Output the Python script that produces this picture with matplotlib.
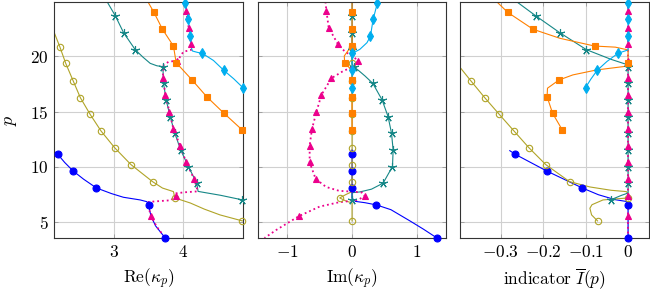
import numpy as np
import matplotlib
matplotlib.use("Agg")
import matplotlib.pyplot as plt

plt.rcParams['font.family'] = 'serif'
plt.rcParams['font.serif'] = ['cmr10', 'DejaVu Serif']
plt.rcParams['mathtext.fontset'] = 'cm'
plt.rcParams['axes.formatter.use_mathtext'] = True
plt.rcParams['font.size'] = 12

# ---- marker samples (p, Re, Im, indicator) per branch ----
blue_p = [11.14, 9.64, 8.11, 6.58, 3.6]
blue_re = [2.2, 2.42, 2.753, 3.5, 3.739]
blue_im = [0, 0, 0, 0.377, 1.31]
blue_ind = [-0.266, -0.192, -0.108, 0, 0]

olive_p = [20.84, 19.34, 17.77, 16.24, 14.75, 13.24, 11.74, 10.21, 8.68, 7.21, 5.14]
olive_re = [2.229, 2.314, 2.42, 2.524, 2.663, 2.82, 3.014, 3.249, 3.557, 3.877, 4.843]
olive_im = [0, 0, 0, 0, 0, 0, 0, 0, 0, -0.19, 0]
olive_ind = [-0.437, -0.404, -0.371, -0.338, -0.304, -0.269, -0.234, -0.194, -0.138, 0, -0.072]

teal_p = [23.63, 22.1, 20.57, 19.04, 17.54, 16.04, 14.54, 13.04, 11.54, 10.04, 8.54, 7.04]
teal_re = [3.024, 3.143, 3.31, 3.706, 3.715, 3.753, 3.81, 3.877, 3.96, 4.071, 4.191, 4.84]
teal_im = [0, 0, 0, 0.026, 0.32, 0.464, 0.556, 0.609, 0.634, 0.624, 0.479, 0]
teal_ind = [-0.218, -0.161, -0.098, 0, 0, 0, 0, 0, 0, 0, 0, -0.041]

mag_p = [24.08, 22.55, 21.05, 19.58, 18.0, 16.49, 14.95, 13.42, 11.92, 10.42, 8.92, 7.4, 5.57]
mag_re = [4.039, 4.075, 4.11, 3.915, 3.706, 3.743, 3.8, 3.857, 3.953, 4.039, 4.153, 3.896, 3.534]
mag_im = [-0.396, -0.36, -0.216, 0.096, -0.318, -0.473, -0.55, -0.618, -0.654, -0.654, -0.561, 0.196, -0.819]
mag_ind = [0] * 13

orange_p = [23.94, 22.41, 20.9, 19.4, 17.84, 16.33, 14.84, 13.33]
orange_re = [3.577, 3.7, 3.857, 3.896, 4.124, 4.334, 4.581, 4.843]
orange_im = [0, 0, 0, -0.113, 0, 0, 0, 0]
orange_ind = [-0.284, -0.224, -0.079, 0, -0.163, -0.191, -0.178, -0.155]

cyan_p = [24.8, 23.3, 21.78, 20.24, 18.7, 17.16]
cyan_re = [4.024, 4.07, 4.1, 4.27, 4.58, 4.85]
cyan_im = [0.392, 0.325, 0.284, 0, 0, 0]
cyan_ind = [0, 0, 0, -0.024, -0.073, -0.1]

# ---- curve traces (x, p) per panel ----
blue_re_line_p = [11.55, 11.14, 10.4, 9.64, 8.9, 8.11, 7.6, 7.27, 7.03, 6.87, 6.58, 5.6, 4.7, 3.6]
blue_re_line_x = [2.12, 2.2, 2.3, 2.42, 2.57, 2.753, 2.97, 3.14, 3.38, 3.477, 3.5, 3.534, 3.6, 3.739]
blue_im_line_p = [11.55, 11.14, 9.64, 8.11, 7.2, 6.9, 6.78, 6.58, 6.15, 5.15, 4.4, 3.6]
blue_im_line_x = [0, 0, 0, 0, 0, 0.05, 0.2, 0.377, 0.6, 0.89, 1.1, 1.31]
blue_ind_line_p = [11.47, 11.14, 9.64, 8.11, 7.5, 7.05, 6.87, 6.58, 3.6]
blue_ind_line_x = [-0.279, -0.266, -0.192, -0.108, -0.07, -0.03, 0, 0, 0]

olive_re_line_p = [22.1, 20.84, 19.34, 17.77, 16.24, 14.75, 13.24, 11.74, 10.21, 8.68, 8.1, 7.78, 7.21, 6.75, 6.2, 5.68, 5.14]
olive_re_line_x = [2.15, 2.229, 2.314, 2.42, 2.524, 2.663, 2.82, 3.014, 3.249, 3.557, 3.7, 3.857, 3.877, 4.1, 4.3, 4.524, 4.843]
olive_im_line_p = [22.1, 8.68, 7.78, 7.5, 7.21, 6.95, 6.75, 5.14]
olive_im_line_x = [0, 0, 0, -0.1, -0.19, -0.1, 0, 0]
olive_ind_line_p = [22.1, 20.84, 19.34, 17.77, 16.24, 14.75, 13.24, 11.74, 10.21, 8.68, 8.2, 7.9, 7.78, 7.6, 7.21,
                    7.03, 6.6, 6.28, 5.68, 5.14]
olive_ind_line_x = [-0.48, -0.437, -0.404, -0.371, -0.338, -0.304, -0.269, -0.234, -0.194, -0.138, -0.09, -0.04,
                    -0.004, 0, 0, -0.059, -0.085, -0.09, -0.086, -0.072]

teal_re_line_p = [24.9, 23.63, 22.1, 20.57, 19.9, 19.34, 19.12, 19.04, 17.54, 16.04, 14.54, 13.04, 11.54, 10.04,
                  8.54, 7.8, 7.7, 7.45, 7.04]
teal_re_line_x = [2.906, 3.024, 3.143, 3.31, 3.42, 3.524, 3.62, 3.706, 3.715, 3.753, 3.81, 3.877, 3.96, 4.071,
                  4.191, 4.21, 4.3, 4.53, 4.84]
teal_im_line_p = [24.9, 19.3, 19.04, 18.7, 18.2, 17.54, 16.04, 14.54, 13.04, 11.54, 10.04, 8.54, 8.0, 7.75, 7.68, 7.04]
teal_im_line_x = [0, 0, 0.026, 0.1, 0.2, 0.32, 0.464, 0.556, 0.609, 0.634, 0.624, 0.479, 0.3, 0.12, 0, 0]
teal_ind_line_p = [24.9, 23.63, 22.1, 20.57, 19.7, 19.2, 7.65, 7.45, 7.04]
teal_ind_line_x = [-0.263, -0.218, -0.161, -0.098, -0.04, 0, 0, -0.015, -0.041]

mag_re_line_p = [24.9, 24.08, 22.55, 21.05, 20.55, 20.39, 19.58, 19.49, 19.19, 19.0, 18.0, 16.49, 14.95, 13.42,
                 11.92, 10.42, 8.92, 8.2, 7.8, 7.72, 7.62, 7.4, 7.0, 6.9, 6.85, 6.4, 5.57, 4.6, 3.6]
mag_re_line_x = [4.025, 4.039, 4.075, 4.11, 4.11, 4.0, 3.915, 3.79, 3.715, 3.71, 3.706, 3.743, 3.8, 3.857,
                 3.953, 4.039, 4.153, 4.19, 4.2, 4.02, 3.88, 3.896, 3.82, 3.6, 3.5, 3.5, 3.534, 3.62, 3.74]
mag_im_line_p = [24.9, 24.08, 22.55, 21.05, 20.4, 19.94, 19.58, 19.1, 18.6, 18.0, 16.49, 14.95, 13.42, 11.92,
                 10.42, 8.92, 8.2, 7.85, 7.78, 7.7, 7.4, 7.05, 6.95, 6.82, 6.43, 5.57, 4.32, 3.6]
mag_im_line_x = [-0.41, -0.396, -0.36, -0.216, -0.11, 0.016, 0.096, 0.03, -0.15, -0.318, -0.473, -0.55, -0.618,
                 -0.654, -0.654, -0.561, -0.4, -0.2, 0, 0.15, 0.196, 0.1, 0, -0.2, -0.5, -0.819, -1.17, -1.35]
mag_ind_line_p = [24.9, 3.6]
mag_ind_line_x = [0, 0]

orange_re_line_p = [24.9, 23.94, 22.41, 20.9, 19.4, 17.84, 16.33, 14.84, 13.33]
orange_re_line_x = [3.49, 3.577, 3.7, 3.857, 3.896, 4.124, 4.334, 4.581, 4.843]
orange_im_line_p = [24.9, 20.9, 20.5, 20.0, 19.4, 19.0, 18.6, 13.33]
orange_im_line_x = [0, 0, -0.06, -0.12, -0.113, -0.05, 0, 0]
orange_ind_line_p = [24.9, 23.94, 22.41, 21.6, 20.9, 20.8, 20.55, 19.4, 19.1, 18.74, 18.3, 17.84, 17.1, 16.33,
                     14.84, 13.33]
orange_ind_line_x = [-0.31, -0.284, -0.224, -0.161, -0.079, -0.03, 0, 0, 0, -0.075, -0.13, -0.163, -0.19, -0.191,
                     -0.178, -0.155]

cyan_re_line_p = [24.9, 24.8, 23.3, 21.78, 20.8, 20.45, 20.33, 20.24, 19.6, 18.7, 17.95, 17.16]
cyan_re_line_x = [4.02, 4.024, 4.07, 4.1, 4.11, 4.13, 4.2, 4.27, 4.43, 4.58, 4.72, 4.85]
cyan_im_line_p = [24.9, 24.8, 23.3, 21.78, 21.2, 20.6, 20.35, 20.24, 17.16]
cyan_im_line_x = [0.40, 0.392, 0.325, 0.284, 0.23, 0.12, 0.04, 0, 0]
cyan_ind_line_p = [24.9, 20.55, 20.24, 19.5, 18.7, 17.9, 17.16]
cyan_ind_line_x = [0, 0, -0.024, -0.05, -0.073, -0.088, -0.1]

c_blue = '#0000ff'
c_olive = '#b0a428'
c_teal = '#168787'
c_mag = '#ec008c'
c_orange = '#ff8000'
c_cyan = '#00aeef'

ylim = (3.6, 24.87)
xlims = [(2.15, 4.85), (-1.455, 1.45), (-0.396, 0.05)]

fig = plt.figure(figsize=(6.5, 2.97), dpi=100)
ax1 = fig.add_axes([0.0835, 0.1987, 0.290, 0.7946])
ax2 = fig.add_axes([0.3965, 0.1987, 0.2897, 0.7946])
ax3 = fig.add_axes([0.708, 0.1987, 0.2908, 0.7946])
axes = [ax1, ax2, ax3]

series = [
    # color, marker, style, mfc, ms, lines per panel, marker p, marker x per panel
    (c_blue, 'o', '-', c_blue, 5.0,
     [(blue_re_line_x, blue_re_line_p), (blue_im_line_x, blue_im_line_p), (blue_ind_line_x, blue_ind_line_p)],
     blue_p, [blue_re, blue_im, blue_ind]),
    (c_olive, 'o', '-', 'none', 4.6,
     [(olive_re_line_x, olive_re_line_p), (olive_im_line_x, olive_im_line_p), (olive_ind_line_x, olive_ind_line_p)],
     olive_p, [olive_re, olive_im, olive_ind]),
    (c_teal, (5, 2, 0), '-', c_teal, 6.5,
     [(teal_re_line_x, teal_re_line_p), (teal_im_line_x, teal_im_line_p), (teal_ind_line_x, teal_ind_line_p)],
     teal_p, [teal_re, teal_im, teal_ind]),
    (c_mag, '^', ':', c_mag, 4.6,
     [(mag_re_line_x, mag_re_line_p), (mag_im_line_x, mag_im_line_p), (mag_ind_line_x, mag_ind_line_p)],
     mag_p, [mag_re, mag_im, mag_ind]),
    (c_orange, 's', '-', c_orange, 4.8,
     [(orange_re_line_x, orange_re_line_p), (orange_im_line_x, orange_im_line_p),
      (orange_ind_line_x, orange_ind_line_p)],
     orange_p, [orange_re, orange_im, orange_ind]),
    (c_cyan, 'd', '-', c_cyan, 4.8,
     [(cyan_re_line_x, cyan_re_line_p), (cyan_im_line_x, cyan_im_line_p), (cyan_ind_line_x, cyan_ind_line_p)],
     cyan_p, [cyan_re, cyan_im, cyan_ind]),
]

for color, mk, ls, mfc, ms, lines, mp, mxs in series:
    for i, ax in enumerate(axes):
        lx, lp = lines[i]
        lw = 1.3 if ls == ':' else 0.8
        ax.plot(lx, lp, color=color, ls=ls, lw=lw, zorder=2)
        # markers are not clipped (pgfplots style), but skip the ones outside the box
        x = np.array(mxs[i], dtype=float)
        p = np.array(mp, dtype=float)
        lo, hi = xlims[i]
        tol = 0.003 * (hi - lo)
        keep = (x >= lo - tol) & (x <= hi + tol)
        ax.plot(x[keep], p[keep], ls='none', marker=mk, ms=ms, color=color,
                mfc=mfc, mec=color, mew=0.8, clip_on=False, zorder=3)

for i, ax in enumerate(axes):
    ax.set_xlim(*xlims[i])
    ax.set_ylim(*ylim)
    ax.set_yticks([5, 10, 15, 20])
    ax.grid(True, color='#d0d0d0', lw=0.8, zorder=0)
    ax.set_axisbelow(True)
    ax.tick_params(direction='in', length=3, width=0.6, color='#999999', top=True, right=True,
                   labelsize=12.5, pad=4)
    for s in ax.spines.values():
        s.set_linewidth(0.8)
        s.set_color('#333333')

ax1.set_xticks([3, 4])
ax2.set_xticks([-1, 0, 1])
ax3.set_xticks([-0.3, -0.2, -0.1, 0])
ax3.set_xticklabels([r'$-0.3$', r'$-0.2$', r'$-0.1$', r'$0$'])
ax2.tick_params(labelleft=False)
ax3.tick_params(labelleft=False)

ax1.set_ylabel(r'$p$', fontsize=13, labelpad=8)
ax1.set_xlabel(r'$\mathrm{Re}(\kappa_p)$', fontsize=12.5, labelpad=5)
ax2.set_xlabel(r'$\mathrm{Im}(\kappa_p)$', fontsize=12.5, labelpad=5)
ax3.set_xlabel(r'$\mathrm{indicator}\ \overline{I}(p)$', fontsize=12.5, labelpad=5)

fig.savefig('out.png', dpi=100)
